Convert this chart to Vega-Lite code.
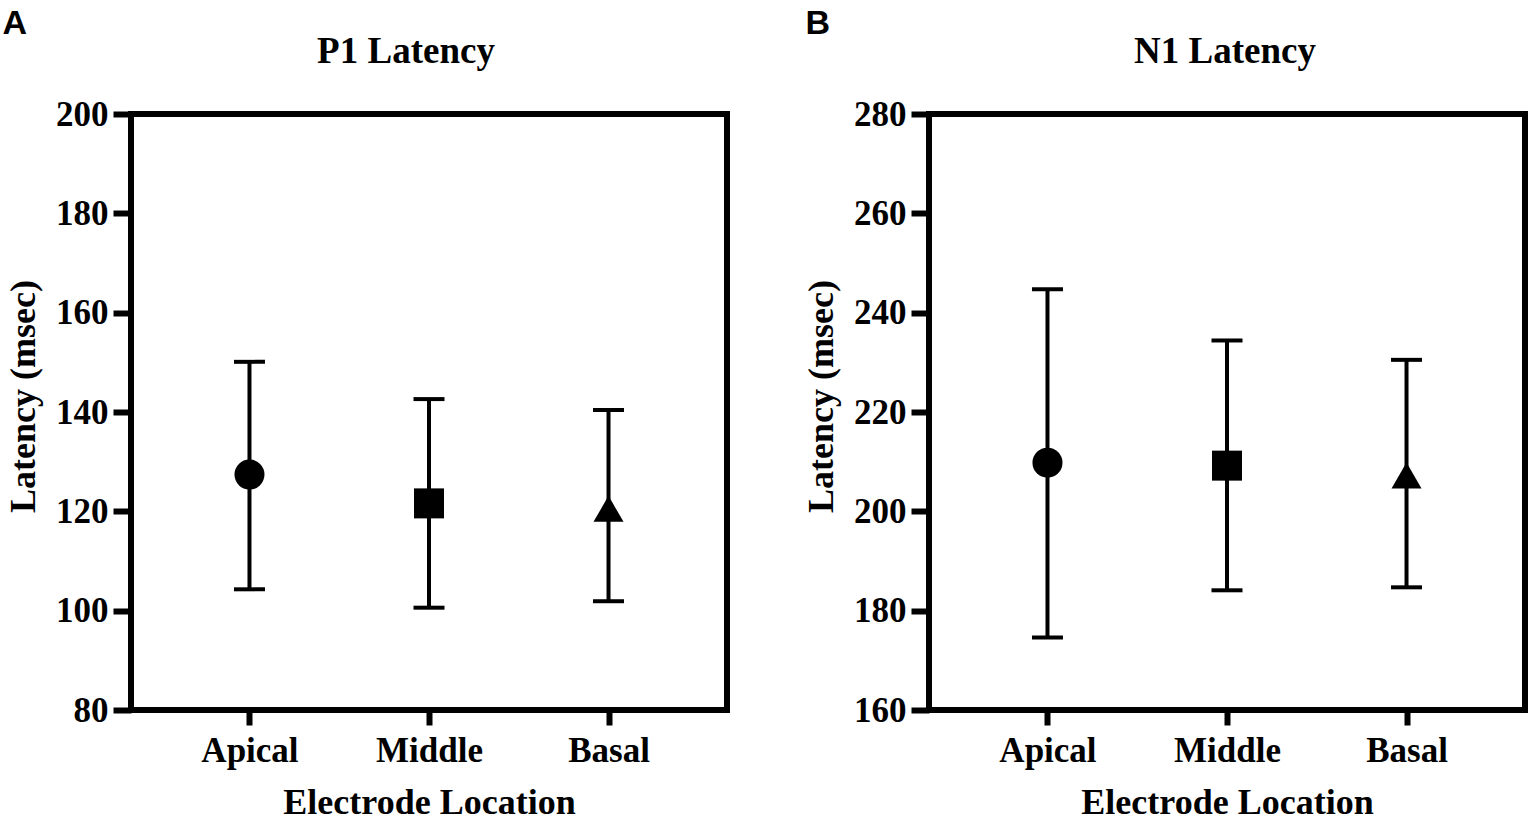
{
  "$schema": "https://vega.github.io/schema/vega-lite/v6.json",
  "padding": {"left": 2, "top": 7, "right": 5, "bottom": 0},
  "background": "white",
  "datasets": {
    "p1": [
      {"location": "Apical", "mean": 127.4, "lower": 104.3, "upper": 150.1},
      {"location": "Middle", "mean": 121.6, "lower": 100.6, "upper": 142.6},
      {"location": "Basal", "mean": 120.5, "lower": 101.9, "upper": 140.4}
    ],
    "n1": [
      {"location": "Apical", "mean": 209.8, "lower": 174.6, "upper": 244.7},
      {"location": "Middle", "mean": 209.2, "lower": 184.1, "upper": 234.4},
      {"location": "Basal", "mean": 207.2, "lower": 184.7, "upper": 230.5}
    ]
  },
  "spacing": 70,
  "hconcat": [
    {
      "title": {"text": "A", "anchor": "start", "frame": "bounds", "font": "Liberation Sans", "fontSize": 34, "fontWeight": "bold", "baseline": "alphabetic", "offset": -38},
      "vconcat": [
        {
          "width": 596,
          "height": 596,
          "title": {"text": "P1 Latency", "anchor": "middle", "frame": "group", "baseline": "alphabetic", "offset": -3, "dx": -23},
          "data": {"name": "p1"},
          "encoding": {
            "x": {
              "field": "location",
              "type": "nominal",
              "sort": ["Apical", "Middle", "Basal"],
              "scale": {"type": "point", "padding": 0.66},
              "title": "Electrode Location"
            }
          },
          "layer": [
            {
              "mark": {"type": "rule", "strokeWidth": 4, "color": "black"},
              "encoding": {
                "y": {"field": "lower", "type": "quantitative", "title": "Latency (msec)",
                      "scale": {"domain": [80, 200], "nice": false, "zero": false},
                      "axis": {"values": [80, 100, 120, 140, 160, 180, 200]}},
                "y2": {"field": "upper"}
              }
            },
            {
              "mark": {"type": "tick", "size": 31, "thickness": 4, "color": "black", "opacity": 1},
              "encoding": {"y": {"field": "lower", "type": "quantitative", "title": "Latency (msec)"}}
            },
            {
              "mark": {"type": "tick", "size": 31, "thickness": 4, "color": "black", "opacity": 1},
              "encoding": {"y": {"field": "upper", "type": "quantitative", "title": "Latency (msec)"}}
            },
            {
              "mark": {"type": "point", "filled": true, "opacity": 1, "color": "black"},
              "encoding": {
                "y": {"field": "mean", "type": "quantitative", "title": "Latency (msec)"},
                "shape": {"field": "location", "type": "nominal", "legend": null,
                          "scale": {"domain": ["Apical", "Middle", "Basal"], "range": ["circle", "square", "triangle-up"]}},
                "size": {"field": "location", "type": "nominal", "legend": null,
                         "scale": {"domain": ["Apical", "Middle", "Basal"], "range": [900, 900, 1050]}}
              }
            }
          ]
        }
      ]
    },
    {
      "title": {"text": "B", "anchor": "start", "frame": "bounds", "font": "Liberation Sans", "fontSize": 34, "fontWeight": "bold", "baseline": "alphabetic", "offset": -38, "dx": 5},
      "vconcat": [
        {
          "width": 596,
          "height": 596,
          "title": {"text": "N1 Latency", "anchor": "middle", "frame": "group", "baseline": "alphabetic", "offset": -3, "dx": -2},
          "data": {"name": "n1"},
          "encoding": {
            "x": {
              "field": "location",
              "type": "nominal",
              "sort": ["Apical", "Middle", "Basal"],
              "scale": {"type": "point", "padding": 0.66},
              "title": "Electrode Location"
            }
          },
          "layer": [
            {
              "mark": {"type": "rule", "strokeWidth": 4, "color": "black"},
              "encoding": {
                "y": {"field": "lower", "type": "quantitative", "title": "Latency (msec)",
                      "scale": {"domain": [160, 280], "nice": false, "zero": false},
                      "axis": {"values": [160, 180, 200, 220, 240, 260, 280]}},
                "y2": {"field": "upper"}
              }
            },
            {
              "mark": {"type": "tick", "size": 31, "thickness": 4, "color": "black", "opacity": 1},
              "encoding": {"y": {"field": "lower", "type": "quantitative", "title": "Latency (msec)"}}
            },
            {
              "mark": {"type": "tick", "size": 31, "thickness": 4, "color": "black", "opacity": 1},
              "encoding": {"y": {"field": "upper", "type": "quantitative", "title": "Latency (msec)"}}
            },
            {
              "mark": {"type": "point", "filled": true, "opacity": 1, "color": "black"},
              "encoding": {
                "y": {"field": "mean", "type": "quantitative", "title": "Latency (msec)"},
                "shape": {"field": "location", "type": "nominal", "legend": null,
                          "scale": {"domain": ["Apical", "Middle", "Basal"], "range": ["circle", "square", "triangle-up"]}},
                "size": {"field": "location", "type": "nominal", "legend": null,
                         "scale": {"domain": ["Apical", "Middle", "Basal"], "range": [900, 900, 1050]}}
              }
            }
          ]
        }
      ]
    }
  ],
  "config": {
    "font": "Liberation Serif",
    "view": {"stroke": "black", "strokeWidth": 6},
    "title": {"font": "Liberation Serif", "fontWeight": "bold", "fontSize": 37, "color": "black"},
    "axis": {
      "domain": false,
      "grid": false,
      "tickColor": "black",
      "tickWidth": 6,
      "labelFont": "Liberation Serif",
      "labelFontWeight": "bold",
      "labelFontSize": 35,
      "labelColor": "black",
      "titleFont": "Liberation Serif",
      "titleFontWeight": "bold",
      "titleFontSize": 36,
      "titleColor": "black"
    },
    "axisY": {"tickSize": 18, "labelPadding": 5, "titlePadding": 13, "titleY": 282},
    "axisX": {"tickSize": 15, "labelPadding": 8, "titlePadding": 17, "labelAngle": 0}
  }
}
